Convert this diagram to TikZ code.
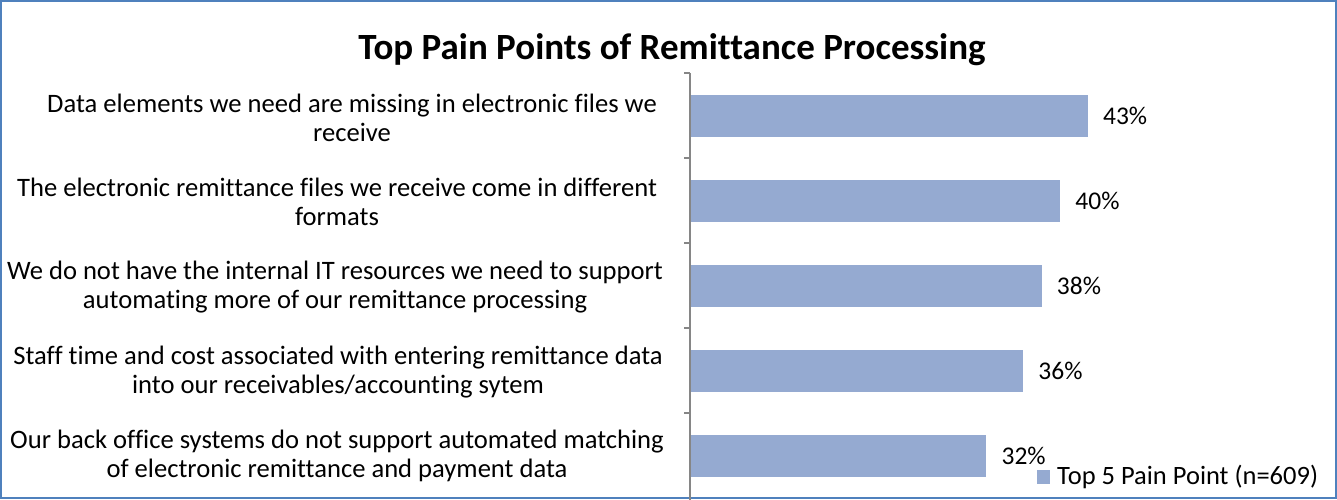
\documentclass[tikz,border=0pt]{standalone}
\usepackage{fontspec}
\setmainfont[Ligatures=NoCommon]{Carlito}
\definecolor{frameblue}{RGB}{79,129,189}
\definecolor{barblue}{RGB}{149,170,209}
\definecolor{axisgray}{RGB}{134,134,134}
\begin{document}
\begin{tikzpicture}[x=1pt,y=-1pt,
  cat/.style={anchor=center,align=center,font=\fontsize{26.6}{29.5}\selectfont,inner sep=0pt},
  val/.style={anchor=west,font=\fontsize{25.5}{28}\selectfont,inner sep=0pt},
  bar/.style={fill=barblue,draw=none},
  tick/.style={draw=axisgray,line width=1.5pt}]
\useasboundingbox (0,0) rectangle (1337,500);
\fill[white] (0,0) rectangle (1337,500);
\draw[frameblue,line width=2pt] (1,1) rectangle (1336,498);
\node[font=\bfseries\fontsize{37}{42}\selectfont,inner sep=0pt] (title) at (672,50) {Top Pain Points of Remittance Processing};
% bars
\foreach \v/\c/\n in {43/116/b1,40/201/b2,38/286/b3,36/371/b4,32/456/b5}{
  \path[bar] (691,\c-21) rectangle ({691+9.23*\v},\c+21);
  \coordinate (\n) at ({691+9.23*\v},\c);
  \node[val] (\n v) at ([xshift=15pt]\n) {\v\%};
}
% axis
\draw[axisgray,line width=1.5pt] (690,73) -- (690,500);
\foreach \t in {73,158,243,328,413}{\draw[tick] (684,\t) -- (690,\t);}
% category labels
\node[cat] (c1) at (352,118) {Data elements we need are missing in electronic files we\\receive};
\node[cat] (c2) at (337,202) {The electronic remittance files we receive come in different\\formats};
\node[cat] (c3) at (335,287) {We do not have the internal IT resources we need to support\\automating more of our remittance processing};
\node[cat] (c4) at (338,372) {Staff time and cost associated with entering remittance data\\into our receivables/accounting sytem};
\node[cat] (c5) at (337,456) {Our back office systems do not support automated matching\\of electronic remittance and payment data};
% legend
\fill[barblue] (1037,470) rectangle (1050,484);
\node[anchor=west,inner sep=0pt,font=\fontsize{26.5}{30}\selectfont] (leg) at (1057,477) {Top 5 Pain Point (n=609)};
\end{tikzpicture}
\end{document}
